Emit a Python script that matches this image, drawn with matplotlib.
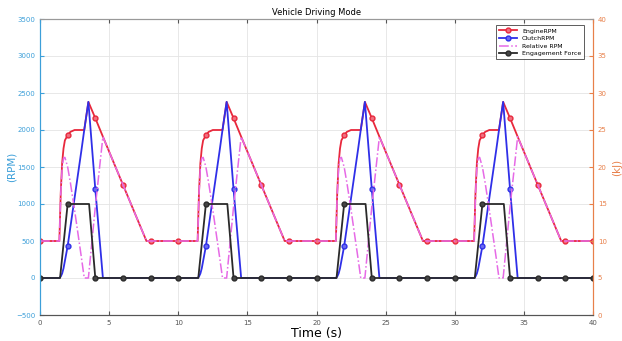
import numpy as np
import matplotlib.pyplot as plt

# one driving cycle (10 s), repeated at these start times
cycle_starts = [0, 10, 20, 30]

cycle_t = [0, 1.4, 1.5, 1.6, 1.7, 1.8, 2.0, 2.2, 2.5, 3.0, 3.2, 3.5, 4.0, 4.55, 6.0, 7.7, 8.0]
engine_rpm = [500, 500, 1150, 1550, 1750, 1860, 1930, 1975, 2000, 2000, 2000, 2380, 2160, 1910, 1260, 500, 500]
clutch_rpm = [0, 0, 20, 60, 130, 230, 430, 690, 1080, 1730, 2000, 2380, 1200, 0, 0, 0, 0]
relative_rpm = [500, 500, 1130, 1490, 1620, 1630, 1500, 1285, 920, 270, 0, 0, 960, 1910, 1260, 500, 500]

force_t = [0, 1.45, 2.0, 3.55, 4.0, 6.0, 8.0]
force_kj = [5, 5, 15, 15, 5, 5, 5]

end_t = 40
engine_end, clutch_end, relative_end, force_end = 500, 0, 500, 5


def tile(t, v, v_end):
    tt = np.concatenate([np.array(t) + s for s in cycle_starts] + [[end_t]])
    vv = np.concatenate([v for s in cycle_starts] + [[v_end]])
    return tt, vv


t1, eng = tile(cycle_t, engine_rpm, engine_end)
_, clu = tile(cycle_t, clutch_rpm, clutch_end)
_, rel = tile(cycle_t, relative_rpm, relative_end)
t2, frc = tile(force_t, force_kj, force_end)

mk1 = np.isclose(t1 % 2, 0)
mk2 = np.isclose(t2 % 2, 0)

left_col = '#3c9fd9'
right_col = '#e8804a'
red = '#e8283c'
blue = '#2f2fe8'
mag = '#e66ae6'
blk = '#2a2a2a'

fig = plt.figure(figsize=(6.22, 3.41), dpi=100)
ax = fig.add_axes([40 / 622, 26 / 341, 553 / 622, 296 / 341])
ax2 = ax.twinx()

l1, = ax.plot(t1, eng, '-o', color=red, lw=1.3, ms=3.5, mfc='#f07080', mec=red,
              markevery=list(np.where(mk1)[0]), label='EngineRPM')
l2, = ax.plot(t1, clu, '-o', color=blue, lw=1.3, ms=3.5, mfc='#6a6af0', mec=blue,
              markevery=list(np.where(mk1 & (clu > 0))[0]), label='ClutchRPM')
l3, = ax.plot(t1, rel, '-.', color=mag, lw=1.1, label='Relative RPM')
l4, = ax2.plot(t2, frc, '-o', color=blk, lw=1.3, ms=3.5, mfc='#444444', mec=blk,
               markevery=list(np.where(mk2)[0]), label='Engagement Force')

ax.set_xlim(0, 40)
ax.set_ylim(-500, 3500)
ax2.set_ylim(0, 40)
ax.set_xticks(range(0, 41, 5))
ax.set_yticks(range(-500, 3501, 500))
ax2.set_yticks(range(0, 41, 5))

ax.grid(True, color='#e4e4e4', lw=0.6)
ax.set_axisbelow(True)

ax.tick_params(axis='x', direction='in', labelsize=5, colors='#555555', top=True, length=3)
ax.tick_params(axis='y', direction='in', labelsize=5, colors=left_col, length=3)
ax2.tick_params(axis='y', direction='in', labelsize=5, colors=right_col, length=3)

for a in (ax, ax2):
    a.spines['left'].set_color(left_col)
    a.spines['right'].set_color(right_col)
    a.spines['bottom'].set_color('#555555')
    a.spines['top'].set_color('#999999')
    for s in a.spines.values():
        s.set_linewidth(0.8)

ax.set_title('Vehicle Driving Mode', fontsize=6, pad=3)
ax.set_xlabel('Time (s)', fontsize=9, labelpad=1)
ax.set_ylabel('(RPM)', fontsize=7.5, color=left_col)
ax2.set_ylabel('(kJ)', fontsize=7.5, color=right_col)
ax.yaxis.set_label_coords(-0.043, 0.5)
ax2.yaxis.set_label_coords(1.034, 0.5)

leg = ax2.legend(handles=[l1, l2, l3, l4], loc='upper right', fontsize=4.5,
                 bbox_to_anchor=(0.99, 0.99), frameon=True, fancybox=False,
                 handlelength=2.8, borderpad=0.5, labelspacing=0.35)
leg.get_frame().set_edgecolor('#333333')
leg.get_frame().set_linewidth(0.7)

fig.savefig('out.png', dpi=100)
